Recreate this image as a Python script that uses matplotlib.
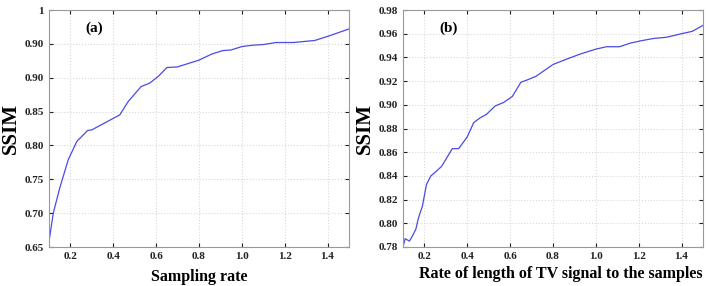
import matplotlib.pyplot as plt

# panel (a): SSIM vs sampling rate
rate_a = [0.10, 0.12, 0.15, 0.19, 0.23, 0.28, 0.30, 0.40, 0.43, 0.47, 0.53, 0.57,
          0.61, 0.65, 0.70, 0.75, 0.80, 0.86, 0.91, 0.95, 1.00, 1.05, 1.10, 1.16,
          1.24, 1.34, 1.40, 1.50]
ssim_a = [0.658, 0.700, 0.737, 0.779, 0.806, 0.822, 0.823, 0.840, 0.845, 0.865, 0.887, 0.892,
          0.902, 0.915, 0.916, 0.921, 0.926, 0.935, 0.940, 0.941, 0.946, 0.948, 0.949, 0.952,
          0.952, 0.955, 0.961, 0.972]
yticks_a = [0.65, 0.70, 0.75, 0.80, 0.85, 0.90, 0.95, 1.00]
ylabels_a = ["0.65", "0.70", "0.75", "0.80", "0.85", "0.90", "0.90", "1"]

# panel (b): SSIM vs rate of TV signal length to samples
rate_b = [0.10, 0.11, 0.12, 0.13, 0.14, 0.16, 0.17, 0.18, 0.19, 0.21, 0.23, 0.25,
          0.28, 0.30, 0.33, 0.36, 0.40, 0.43, 0.46, 0.49, 0.53, 0.57, 0.61, 0.65,
          0.68, 0.72, 0.76, 0.80, 0.87, 0.93, 1.00, 1.05, 1.11, 1.16, 1.21, 1.27,
          1.33, 1.40, 1.45, 1.50]
ssim_b = [0.780, 0.787, 0.786, 0.785, 0.788, 0.795, 0.803, 0.809, 0.814, 0.833, 0.840, 0.843,
          0.848, 0.854, 0.863, 0.863, 0.873, 0.885, 0.889, 0.892, 0.899, 0.902, 0.907, 0.919,
          0.921, 0.924, 0.929, 0.934, 0.939, 0.943, 0.947, 0.949, 0.949, 0.952, 0.954, 0.956,
          0.957, 0.960, 0.962, 0.967]
yticks_b = [0.78, 0.80, 0.82, 0.84, 0.86, 0.88, 0.90, 0.92, 0.94, 0.96, 0.98]

xticks = [0.2, 0.4, 0.6, 0.8, 1.0, 1.2, 1.4]

plt.rcParams["font.family"] = "Liberation Serif"
plt.rcParams["font.weight"] = "bold"

fig = plt.figure(figsize=(7.08, 2.86), dpi=100)
ax1 = fig.add_axes([49 / 708, 1 - 247 / 286, 300 / 708, 237 / 286])
ax2 = fig.add_axes([403 / 708, 1 - 247 / 286, 300 / 708, 237 / 286])

def style(ax, x, y, yt, ylab, ylim, xlabel, tag):
    ax.plot(x, y, color="#4a4ae6", lw=0.9)
    ax.set_xlim(0.1, 1.5)
    ax.set_ylim(*ylim)
    ax.set_xticks(xticks)
    ax.set_xticklabels(["%.1f" % t for t in xticks])
    ax.set_yticks(yt)
    ax.set_yticklabels(ylab)
    ax.grid(True, color="#d8d8d8", linestyle=":", linewidth=0.8)
    ax.tick_params(direction="in", length=3, labelsize=8, colors="#222222",
                   top=True, right=True)
    for s in ax.spines.values():
        s.set_color("#999999")
        s.set_linewidth(0.8)
    ax.set_ylabel("SSIM", fontsize=15, fontweight="bold", labelpad=3)
    ax.set_xlabel(xlabel, fontsize=11.5, fontweight="bold", labelpad=6)
    ax.text(0.12, 0.91, tag, transform=ax.transAxes, fontsize=11, fontweight="bold")

style(ax1, rate_a, ssim_a, yticks_a, ylabels_a, (0.65, 1.0), "Sampling rate", "(a)")
style(ax2, rate_b, ssim_b, yticks_b, ["%.2f" % t for t in yticks_b], (0.78, 0.98),
      "Rate of length of TV signal to the samples", "(b)")
ax2.xaxis.set_label_coords(0.527, -0.08)
ax2.xaxis.label.set_verticalalignment("top")

fig.savefig("out.png", dpi=100)
